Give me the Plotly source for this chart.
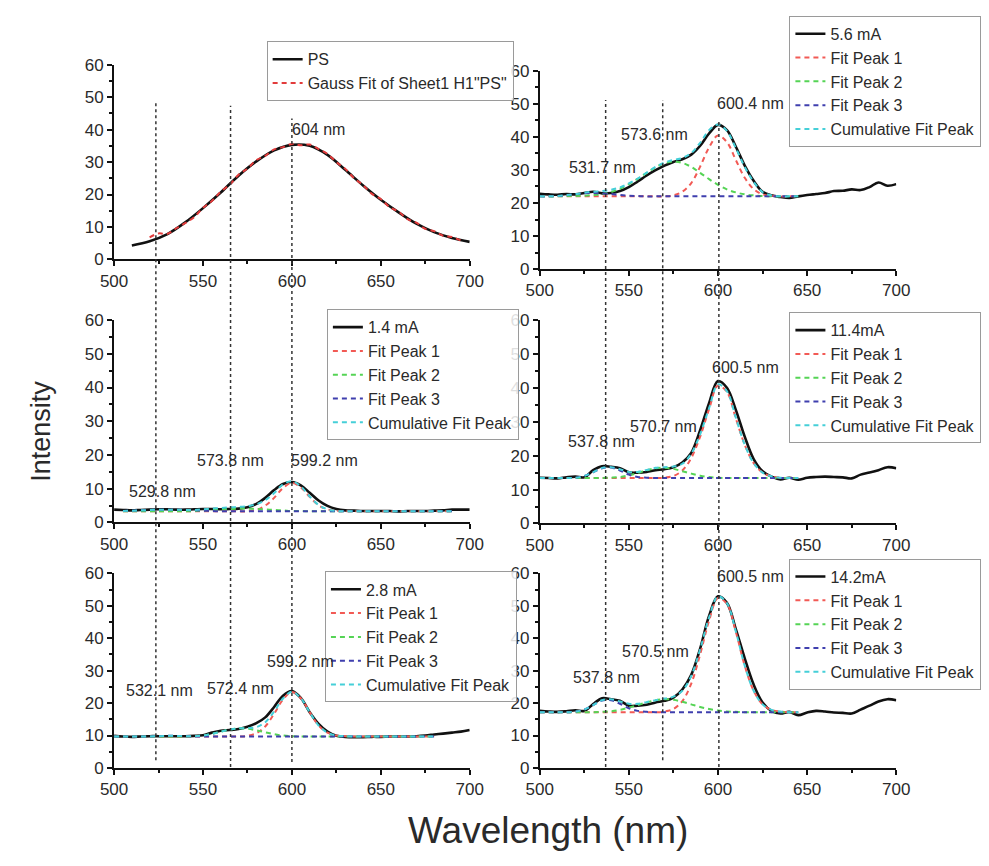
import plotly.graph_objects as go

W, H = 989, 866

# ---------------- data ----------------
wl = [500, 505, 510, 515, 520, 525, 530, 535, 540, 545,
      550, 555, 560, 565, 570, 575, 580, 585, 590, 595,
      600, 605, 610, 615, 620, 625, 630, 635, 640, 645,
      650, 655, 660, 665, 670, 675, 680, 685, 690, 695, 700]

fit_wl_a = [500, 505, 510, 515, 520, 525, 530, 535, 540, 545,
            550, 555, 560, 565, 570, 575, 580, 585, 590, 595,
            600, 605, 610, 615, 620, 625, 630, 635, 640, 645]
fit_wl_b = [505, 510, 515, 520, 525, 530, 535, 540, 545, 550,
            555, 560, 565, 570, 575, 580, 585, 590, 595, 600,
            605, 610, 615, 620, 625, 630, 635, 640, 645, 650,
            655, 660, 665, 670, 675, 680, 685, 690]
fit_wl_c = [500, 505, 510, 515, 520, 525, 530, 535, 540, 545,
            550, 555, 560, 565, 570, 575, 580, 585, 590, 595,
            600, 605, 610, 615, 620, 625, 630, 635, 640, 645,
            650, 655, 660, 665, 670, 675, 680]

# PS panel
ps_wl = [510, 520, 530, 540, 550, 560, 570, 580, 590, 600,
         610, 620, 630, 640, 650, 660, 670, 680, 690, 700]
ps_int = [4.3, 5.6, 7.8, 11.4, 15.8, 20.6, 25.8, 30.2, 33.6, 35.3,
          35.0, 32.2, 27.6, 22.8, 18.4, 14.5, 11.0, 8.4, 6.6, 5.4]
ps_fit_wl = [520, 525, 530, 535, 540, 545, 550, 555, 560, 565,
             570, 575, 580, 585, 590, 595, 600, 605, 610, 615,
             620, 625, 630, 635, 640, 645, 650, 655, 660, 665,
             670, 675, 680, 685, 690, 695]
ps_fit = [6.8, 8.0, 7.9, 9.6, 11.2, 13.0, 15.9, 18.0, 20.9, 23.0,
          26.1, 28.0, 30.6, 31.9, 33.9, 34.6, 35.6, 35.2, 35.4, 34.0,
          32.5, 30.0, 27.9, 25.0, 22.9, 20.2, 18.6, 16.1, 14.7, 12.4,
          11.3, 9.4, 8.7, 7.3, 6.9, 5.8]

# 5.6 mA
i56 = [22.8, 22.6, 22.5, 22.7, 22.6, 23.0, 23.4, 22.9, 23.0, 23.6,
       24.8, 26.5, 28.3, 29.9, 31.3, 32.4, 33.2, 34.6, 37.3, 41.0,
       43.6, 42.0, 37.0, 31.3, 26.7, 23.4, 22.3, 21.8, 21.5, 22.0,
       22.4, 22.7, 23.0, 23.6, 23.7, 24.1, 23.9, 24.8, 26.2, 25.2, 25.7]
p56_1 = [22.0, 22.0, 22.0, 22.0, 22.0, 22.0, 22.0, 22.0, 22.0, 22.0,
         22.0, 22.0, 22.0, 22.0, 22.0, 22.3, 23.4, 26.0, 31.0, 36.8,
         40.4, 38.4, 33.0, 27.6, 24.2, 22.6, 22.2, 22.0, 22.0, 22.0]
p56_2 = [22.0, 22.0, 22.0, 22.1, 22.1, 22.2, 22.4, 22.7, 23.3, 24.3,
         25.7, 27.3, 29.1, 30.8, 32.0, 32.5, 32.1, 30.9, 29.1, 27.2,
         25.5, 24.1, 23.2, 22.6, 22.3, 22.1, 22.0, 22.0, 22.0, 22.0]
p56_3 = [22.0, 22.0, 22.1, 22.3, 22.6, 22.9, 23.0, 22.9, 22.7, 22.4,
         22.2, 22.1, 22.0, 22.0, 22.0, 22.0, 22.0, 22.0, 22.0, 22.0,
         22.0, 22.0, 22.0, 22.0, 22.0, 22.0, 22.0, 22.0, 22.0, 22.0]
c56 = [22.0, 22.0, 22.1, 22.4, 22.7, 23.1, 23.4, 23.6, 24.0, 24.7,
       25.9, 27.4, 29.2, 30.9, 32.2, 33.0, 33.6, 35.1, 38.2, 42.0,
       43.7, 41.8, 36.6, 30.9, 26.4, 23.3, 22.3, 22.0, 22.0, 22.0]

# 1.4 mA
i14 = [3.8, 3.7, 3.6, 3.7, 3.8, 3.9, 3.9, 3.8, 3.8, 3.9,
       4.0, 4.0, 3.9, 4.0, 4.1, 4.5, 5.5, 7.3, 9.6, 11.4,
       12.0, 11.0, 8.8, 6.5, 4.9, 4.0, 3.6, 3.5, 3.4, 3.4,
       3.4, 3.4, 3.3, 3.4, 3.4, 3.4, 3.5, 3.6, 3.8, 3.8, 3.8]
p14_1 = [3.3, 3.3, 3.3, 3.3, 3.3, 3.3, 3.3, 3.3, 3.3, 3.3,
         3.3, 3.3, 3.3, 3.3, 3.3, 3.7, 5.0, 7.3, 10.2, 11.7,
         10.4, 7.6, 5.1, 3.9, 3.4, 3.3, 3.3, 3.3, 3.3, 3.3,
         3.3, 3.3, 3.3, 3.3, 3.3, 3.3, 3.3, 3.3]
p14_2 = [3.3, 3.3, 3.3, 3.3, 3.3, 3.3, 3.3, 3.3, 3.4, 3.5,
         3.7, 3.8, 4.0, 4.1, 4.1, 4.0, 3.9, 3.7, 3.6, 3.4,
         3.4, 3.3, 3.3, 3.3, 3.3, 3.3, 3.3, 3.3, 3.3, 3.3,
         3.3, 3.3, 3.3, 3.3, 3.3, 3.3, 3.3, 3.3]
p14_3 = [3.4, 3.5, 3.6, 3.7, 3.8, 3.8, 3.8, 3.7, 3.6, 3.5,
         3.4, 3.3, 3.3, 3.3, 3.3, 3.3, 3.3, 3.3, 3.3, 3.3,
         3.3, 3.3, 3.3, 3.3, 3.3, 3.3, 3.3, 3.3, 3.3, 3.3,
         3.3, 3.3, 3.3, 3.3, 3.3, 3.3, 3.3, 3.3]
c14 = [3.4, 3.5, 3.6, 3.7, 3.8, 3.8, 3.8, 3.7, 3.7, 3.9,
       4.1, 4.3, 4.5, 4.6, 4.8, 5.4, 6.6, 8.7, 11.3, 12.2,
       10.7, 7.7, 5.2, 3.9, 3.4, 3.3, 3.3, 3.3, 3.3, 3.3,
       3.3, 3.3, 3.3, 3.3, 3.3, 3.3, 3.3, 3.3]

# 11.4 mA
i114 = [13.5, 13.4, 13.3, 13.6, 13.8, 13.6, 15.7, 16.9, 16.7, 16.3,
        15.1, 15.0, 15.2, 15.7, 16.0, 16.6, 18.0, 20.8, 27.5, 35.5,
        42.0, 40.0, 33.5, 25.6, 19.0, 15.4, 13.8, 13.0, 13.5, 12.9,
        13.5, 13.7, 13.8, 13.7, 13.6, 13.3, 14.4, 15.0, 15.7, 16.6, 16.3]
p114_1 = [13.4, 13.4, 13.4, 13.4, 13.4, 13.4, 13.4, 13.4, 13.4, 13.4,
          13.4, 13.4, 13.4, 13.4, 13.5, 14.0, 15.6, 19.3, 25.6, 33.7,
          40.7, 38.8, 31.0, 23.2, 17.8, 15.0, 13.9, 13.5, 13.4, 13.4]
p114_2 = [13.4, 13.4, 13.4, 13.4, 13.4, 13.4, 13.4, 13.4, 13.5, 13.7,
          14.2, 14.9, 15.7, 16.3, 16.4, 16.1, 15.4, 14.7, 14.1, 13.7,
          13.5, 13.4, 13.4, 13.4, 13.4, 13.4, 13.4, 13.4, 13.4, 13.4]
p114_3 = [13.4, 13.4, 13.4, 13.4, 13.5, 14.0, 15.1, 16.3, 16.5, 15.6,
          14.4, 13.7, 13.5, 13.4, 13.4, 13.4, 13.4, 13.4, 13.4, 13.4,
          13.4, 13.4, 13.4, 13.4, 13.4, 13.4, 13.4, 13.4, 13.4, 13.4]
c114 = [13.4, 13.4, 13.4, 13.4, 13.5, 14.0, 15.1, 16.4, 16.6, 16.0,
        15.2, 15.2, 15.8, 16.4, 16.6, 16.8, 17.6, 20.6, 26.3, 34.0,
        41.0, 39.0, 31.2, 23.2, 17.8, 15.0, 13.9, 13.5, 13.4, 13.4]

# 2.8 mA
i28 = [9.9, 9.7, 9.6, 9.7, 9.8, 9.8, 9.8, 9.8, 9.8, 9.9,
       10.1, 10.9, 11.5, 11.7, 12.0, 12.7, 13.8, 15.6, 18.8, 22.3,
       23.7, 21.6, 17.2, 13.6, 11.2, 9.9, 9.6, 9.5, 9.5, 9.6,
       9.6, 9.7, 9.7, 9.7, 9.8, 10.0, 10.3, 10.6, 10.9, 11.2, 11.7]
p28_1 = [9.7, 9.7, 9.7, 9.7, 9.7, 9.7, 9.7, 9.7, 9.7, 9.7,
         9.7, 9.7, 9.7, 9.7, 9.7, 9.9, 10.7, 12.8, 16.7, 21.1,
         23.4, 21.5, 17.2, 13.1, 10.9, 10.0, 9.8, 9.7, 9.7, 9.7,
         9.7, 9.7, 9.7, 9.7, 9.7, 9.7, 9.7]
p28_2 = [9.7, 9.7, 9.7, 9.7, 9.7, 9.7, 9.7, 9.7, 9.7, 9.8,
         10.0, 10.5, 11.2, 11.8, 12.2, 12.1, 11.6, 11.0, 10.4, 10.0,
         9.8, 9.7, 9.7, 9.7, 9.7, 9.7, 9.7, 9.7, 9.7, 9.7,
         9.7, 9.7, 9.7, 9.7, 9.7, 9.7, 9.7]
p28_3 = [9.7, 9.7, 9.7, 9.7, 9.7, 9.8, 9.9, 9.9, 9.8, 9.7,
         9.7, 9.7, 9.7, 9.7, 9.7, 9.7, 9.7, 9.7, 9.7, 9.7,
         9.7, 9.7, 9.7, 9.7, 9.7, 9.7, 9.7, 9.7, 9.7, 9.7,
         9.7, 9.7, 9.7, 9.7, 9.7, 9.7, 9.7]
c28 = [9.7, 9.7, 9.7, 9.7, 9.7, 9.8, 9.9, 9.9, 9.8, 9.8,
       10.0, 10.5, 11.2, 11.8, 12.2, 12.3, 12.6, 14.1, 17.4, 21.4,
       23.5, 21.5, 17.2, 13.1, 10.9, 10.0, 9.8, 9.7, 9.7, 9.7,
       9.7, 9.7, 9.7, 9.7, 9.7, 9.7, 9.7]

# 14.2 mA
i142 = [17.6, 17.4, 17.3, 17.5, 17.8, 17.6, 19.7, 21.5, 21.2, 20.7,
        19.2, 19.2, 19.5, 20.2, 20.7, 21.7, 24.2, 28.7, 36.8, 46.9,
        52.9, 50.9, 42.8, 33.8, 25.7, 20.2, 17.6, 16.8, 17.3, 16.3,
        17.1, 17.6, 17.4, 17.1, 17.0, 16.8, 18.0, 19.2, 20.5, 21.2, 20.9]
p142_1 = [17.2, 17.2, 17.2, 17.2, 17.2, 17.2, 17.2, 17.2, 17.2, 17.2,
          17.2, 17.2, 17.2, 17.2, 17.4, 18.2, 20.6, 26.0, 35.0, 45.4,
          52.4, 50.6, 42.0, 31.5, 23.8, 19.6, 17.9, 17.4, 17.2, 17.2]
p142_2 = [17.2, 17.2, 17.2, 17.2, 17.2, 17.2, 17.2, 17.3, 17.5, 17.9,
          18.6, 19.4, 20.2, 20.9, 21.2, 21.0, 20.4, 19.6, 18.8, 18.2,
          17.7, 17.4, 17.3, 17.2, 17.2, 17.2, 17.2, 17.2, 17.2, 17.2]
p142_3 = [17.2, 17.2, 17.2, 17.2, 17.4, 18.0, 19.4, 20.8, 20.9, 19.8,
          18.4, 17.6, 17.3, 17.2, 17.2, 17.2, 17.2, 17.2, 17.2, 17.2,
          17.2, 17.2, 17.2, 17.2, 17.2, 17.2, 17.2, 17.2, 17.2, 17.2]
c142 = [17.2, 17.2, 17.2, 17.2, 17.4, 18.0, 19.4, 20.9, 21.2, 20.5,
        19.8, 19.8, 20.3, 20.9, 21.4, 22.0, 23.8, 28.4, 36.6, 46.4,
        52.9, 50.8, 42.1, 31.5, 23.8, 19.6, 17.9, 17.4, 17.2, 17.2]

# Labels
series_names = ["PS", "5.6 mA", "1.4 mA", "11.4mA", "2.8 mA", "14.2mA"]
fit_names = ["Fit Peak 1", "Fit Peak 2", "Fit Peak 3", "Cumulative Fit Peak"]
gauss_name = 'Gauss Fit of Sheet1 H1"PS"'
peak_labels = [
    ["604 nm"],
    ["531.7 nm", "573.6 nm", "600.4 nm"],
    ["529.8 nm", "573.8 nm", "599.2 nm"],
    ["537.8 nm", "570.7 nm", "600.5 nm"],
    ["532.1 nm", "572.4 nm", "599.2 nm"],
    ["537.8 nm", "570.5 nm", "600.5 nm"],
]
guides_left = [523.5, 565.5, 600.0]
guides_right = [537.0, 569.0, 600.5]
x_ticks = [500, 550, 600, 650, 700]
y_ticks = [0, 10, 20, 30, 40, 50, 60]

# ---------------- figure ----------------
FONT = "Liberation Sans, Arial, sans-serif"
TXT = "#2a2a2a"
fig = go.Figure()


def dx(a, b):
    return [a / W, b / W]


def dy(top, bottom):
    return [1 - bottom / H, 1 - top / H]


domains = [
    (dx(103, 469), dy(57, 256)),
    (dx(541, 908), dy(63, 266)),
    (dx(103, 469), dy(318, 525)),
    (dx(541, 908), dy(318, 526)),
    (dx(103, 469), dy(577, 776)),
    (dx(541, 908), dy(577, 776)),
]


def sfx(i):
    return "" if i == 1 else str(i)


fit_colors = ["#f25a55", "#55d455", "#3f3fae", "#45cfd8"]
DASH = "5px,4px"

panels = [
    None,
    (i56, fit_wl_a, [p56_1, p56_2, p56_3, c56]),
    (i14, fit_wl_b, [p14_1, p14_2, p14_3, c14]),
    (i114, fit_wl_a, [p114_1, p114_2, p114_3, c114]),
    (i28, fit_wl_c, [p28_1, p28_2, p28_3, c28]),
    (i142, fit_wl_a, [p142_1, p142_2, p142_3, c142]),
]

for idx in range(6):
    i = idx + 1
    xa, ya, lg = "x" + sfx(i), "y" + sfx(i), "legend" + sfx(i)
    if idx == 0:
        fig.add_trace(go.Scatter(x=ps_wl, y=ps_int, mode="lines", name=series_names[0],
                                 line=dict(color="#111111", width=2.6, shape="spline"),
                                 xaxis=xa, yaxis=ya, legend=lg))
        fig.add_trace(go.Scatter(x=ps_fit_wl, y=ps_fit, mode="lines", name=gauss_name,
                                 line=dict(color="#e23b3b", width=2, dash=DASH, shape="spline"),
                                 xaxis=xa, yaxis=ya, legend=lg))
    else:
        data, fwl, fits = panels[idx]
        fig.add_trace(go.Scatter(x=wl, y=data, mode="lines", name=series_names[idx],
                                 line=dict(color="#111111", width=2.6, shape="spline"),
                                 xaxis=xa, yaxis=ya, legend=lg))
        for k in range(4):
            fig.add_trace(go.Scatter(x=fwl, y=fits[k], mode="lines", name=fit_names[k],
                                     line=dict(color=fit_colors[k], width=2, dash=DASH,
                                               shape="spline"),
                                     xaxis=xa, yaxis=ya, legend=lg))

axis_common = dict(showline=True, linecolor="#111", linewidth=1.8, ticks="outside",
                   ticklen=5, tickwidth=1.5, tickcolor="#111", showgrid=False,
                   zeroline=False, tickfont=dict(family=FONT, size=17, color=TXT),
                   mirror=False)

layout = dict(width=W, height=H, margin=dict(l=0, r=0, t=0, b=0),
              paper_bgcolor="white", plot_bgcolor="white", showlegend=True)

legend_px = [(260, 33), (798, 7), (322, 307), (798, 310), (320, 575), (798, 562)]

for idx in range(6):
    i = idx + 1
    xd, yd = domains[idx]
    layout["xaxis" + sfx(i)] = dict(axis_common, domain=xd, range=[500, 700],
                                    anchor="y" + sfx(i), tickvals=x_ticks,
                                    minor=dict(dtick=25, tick0=500, ticks="outside",
                                               ticklen=3, tickcolor="#111"))
    layout["yaxis" + sfx(i)] = dict(axis_common, domain=yd, range=[0, 60],
                                    anchor="x" + sfx(i), tickvals=y_ticks,
                                    minor=dict(dtick=5, tick0=0, ticks="outside",
                                               ticklen=3, tickcolor="#111"))
    lx, ly = legend_px[idx]
    layout["legend" + sfx(i)] = dict(x=lx / W, y=1 - ly / H, xanchor="left", yanchor="top",
                                     xref="paper", yref="paper",
                                     font=dict(family=FONT, size=16, color=TXT),
                                     bgcolor="rgba(255,255,255,0.85)",
                                     bordercolor="#9a9a9a", borderwidth=1,
                                     itemwidth=30, tracegroupgap=0)

fig.update_layout(**layout)

# peak annotations (data coordinates)
label_pos = [
    [(614.8, 40.1)],
    [(535.4, 30.7), (564.3, 40.8), (618.3, 50.0)],
    [(527.3, 9.3), (565.6, 18.3), (618.6, 18.3)],
    [(534.9, 24.2), (569.2, 28.6), (615.5, 45.9)],
    [(525.7, 23.8), (571.0, 24.4), (604.9, 32.9)],
    [(537.6, 28.0), (564.9, 35.9), (618.3, 59.1)],
]
for idx in range(6):
    i = idx + 1
    for txt, (px_, py_) in zip(peak_labels[idx], label_pos[idx]):
        fig.add_annotation(x=px_, y=py_, xref="x" + sfx(i), yref="y" + sfx(i), text=txt,
                           showarrow=False, xanchor="center", yanchor="middle",
                           font=dict(family=FONT, size=16, color=TXT))

# vertical dotted guide lines
left_ext = [(95, 768), (99, 775), (112, 770)]
right_ext = [(93, 775), (93, 768), (113, 775)]
for gx, (t, b) in zip(guides_left, left_ext):
    fig.add_shape(type="line", xref="x", yref="paper", x0=gx, x1=gx,
                  y0=1 - b / H, y1=1 - t / H, line=dict(color="#333", width=1.5, dash="dot"))
for gx, (t, b) in zip(guides_right, right_ext):
    fig.add_shape(type="line", xref="x2", yref="paper", x0=gx, x1=gx,
                  y0=1 - b / H, y1=1 - t / H, line=dict(color="#333", width=1.5, dash="dot"))

# axis titles
fig.add_annotation(text="Wavelength (nm)", x=550 / W, y=1 - 840 / H, xref="paper", yref="paper",
                   showarrow=False, xanchor="center", yanchor="middle",
                   font=dict(family=FONT, size=37, color=TXT))
fig.add_annotation(text="Intensity", x=27 / W, y=1 - 432 / H, xref="paper", yref="paper",
                   showarrow=False, textangle=-90, xanchor="center", yanchor="middle",
                   font=dict(family=FONT, size=27, color=TXT))

fig.write_html("out.html",
               config={"displayModeBar": False},
               post_script="document.body.style.margin='0';"
                           "document.body.style.overflow='hidden';")
